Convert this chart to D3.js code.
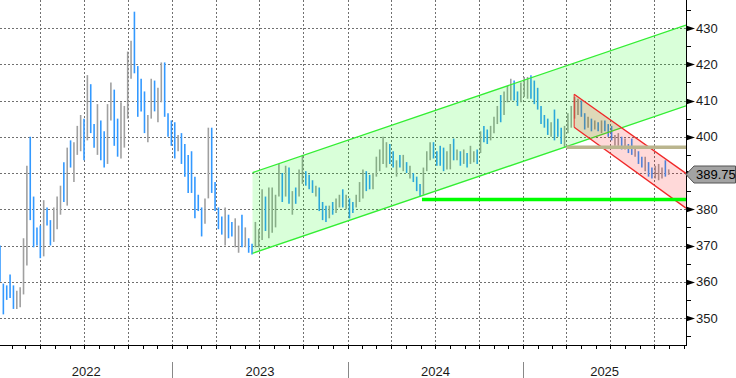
<!DOCTYPE html>
<html>
<head>
<meta charset="utf-8">
<script src="https://cdn.jsdelivr.net/npm/d3@7"></script>
<style>
  body { margin: 0; background: #fff; }
  svg { display: block; font-family: "Liberation Sans", Arial, sans-serif; }
</style>
</head>
<body>
<div id="chart"></div>
<script>
// weekly bars, first one on this date
var firstWeek = "2022-01-07";

var highs = [
  370, 359.5, 359, 362, 359, 357.5, 358.5, 372, 392, 400,
  383.5, 375, 375.5, 382.5, 380.5, 377, 380.5, 383.5, 386.5, 393,
  397, 399, 398.5, 403, 406, 405, 417, 414.5, 403.5, 409,
  404.5, 401.5, 409, 415, 413, 405, 409.5, 408.5, 423.5, 426.5,
  434.5, 419.5, 416, 412.5, 406, 416, 415.5, 413.5, 420.5, 420.5,
  406.5, 404.5, 404, 400.5, 401, 398, 395, 396, 389, 384,
  380.5, 383, 402.5, 402.5, 387.5, 380.5, 378, 380.5, 378.5, 376.5,
  377.5, 375.5, 378.5, 375, 372, 370.5, 376.5, 374.5, 385.5, 383.5,
  386, 386, 384, 392.5, 390, 392, 391.5, 385, 386, 391,
  395, 390.5, 389.5, 388, 386.5, 386, 382, 381, 381, 382,
  383, 384, 385.5, 384, 383, 382, 384, 387.5, 391, 390.5,
  389.5, 390, 394.5, 396.5, 400, 398.5, 398, 396, 393.5, 395,
  395, 393, 392, 390, 389, 387, 391.5, 396, 398.5, 398.5,
  396, 397.5, 397, 396, 398, 399.5, 396.5, 396, 396.5, 395.5,
  397.5, 396, 396.5, 401.5, 403, 402, 403, 405.5, 408.5, 411.5,
  412.5, 414, 416, 415.5, 412.5, 415, 416.5, 416.5, 417, 415.5,
  413.5, 408.5, 406, 405, 404, 407.5, 405, 402.5, 403, 406.5,
  408.5, 411, 410.5, 410, 406.5, 405.5, 405, 404.5, 404, 404.5,
  404.5, 403.5, 403, 400.5, 401, 400, 399.5, 398, 399.5, 397,
  396, 394.5, 394.5, 393, 391.5, 392, 392.5, 391.5, 393.5, 391
];

var lows = [
  360, 351, 355, 355.5, 352.5, 352.5, 353, 356.5, 364.5, 377,
  369.5, 370, 366.5, 367, 375.5, 370, 371, 374.5, 378.5, 382,
  381, 391.5, 387.5, 395, 396, 393.5, 399, 401, 397, 395,
  393.5, 391.5, 392.5, 404.5, 397.5, 394.5, 394, 397, 405, 416,
  417.5, 405.5, 407, 401, 398.5, 405, 407, 404, 409.5, 405.5,
  400, 397.5, 394, 396, 392.5, 389, 384.5, 384.5, 377.5, 379.5,
  372.5, 376, 383, 384.5, 379.5, 374.5, 373, 370, 372, 372.5,
  369.5, 368, 369.5, 369.5, 368, 367.5, 369.5, 369.5, 371.5, 374,
  372, 373.5, 375, 383.5, 382, 383.5, 381.5, 378.5, 381.5, 383.5,
  387, 386.5, 385.5, 384.5, 383.5, 379.5, 377, 376.5, 377.5, 378.5,
  379, 380.5, 380.5, 380, 377.5, 379, 380.5, 382, 383, 385,
  385.5, 385.5, 389, 390.5, 392.5, 391.5, 392.5, 391.5, 389, 391.5,
  390.5, 390, 388.5, 387.5, 385, 383.5, 384, 390.5, 393.5, 394,
  392, 392, 390.5, 391, 391, 393.5, 393.5, 392, 392.5, 391.5,
  392.5, 393, 392.5, 395.5, 398.5, 398, 399, 401, 403.5, 404,
  406, 409.5, 410, 410, 408.5, 409.5, 411, 410.5, 410.5, 409,
  407.5, 403.5, 402.5, 400.5, 400, 399, 400, 398, 397, 401,
  402.5, 405, 406, 405.5, 402, 402.5, 401.5, 402, 401.5, 401,
  401.5, 400, 399, 397.5, 397.5, 396.5, 396.5, 395.5, 395, 394.5,
  392.5, 391.5, 390.5, 389, 388.5, 388.5, 388, 388.5, 389, 389.5
];

// b = down week (blue), g = up week (grey)
var barDir = ("bbbbbggggb" + "bbbgbbgggb" + "gbgggbgbbg" + "bbggbbgggg" +
              "bbbbggbggb" + "bbbgbbbbbb" + "bggbbbbgbb" + "ggbgbbgggb" +
              "ggggbgbgbg" + "gbbbgbbbgb" + "ggbgbbgggb" + "bgggggbbgb" +
              "gbgbbbgggb" + "bbbggbgbgb" + "ggbgbbgggb" + "gggbbgggbb" +
              "bbbbgbbbgg" + "gggbbgbgbg" + "bbbggbgbbg" + "bbgbbgggbg").split("");

var lastPrice = 389.75;

var dateRange = ["2022-01-07", "2025-12-06"];
var priceTicks = [350, 360, 370, 380, 390, 400, 410, 420, 430];
var years = [2022, 2023, 2024, 2025];

// rising channel (green)
var upChannelDates = ["2023-06-17", "2025-12-06"];
var upChannelTop = [390.1, 430.8];
var upChannelBottom = [367.85, 408.5];

// falling channel (red)
var downChannelDates = ["2025-04-17", "2025-12-06"];
var downChannelTop = [411.7, 389.9];
var downChannelBottom = [402.6, 380.3];

// horizontal levels
var supportDates = ["2024-06-04", "2025-12-06"];
var supportLevel = 382.7;
var pivotDates = ["2025-04-01", "2025-12-06"];
var pivotLevel = 397.1;


var W = 736, H = 378;
var plotW = 686, plotH = 345;

var parse = d3.timeParse("%Y-%m-%d");

var x = d3.scaleTime()
    .domain(dateRange.map(parse))
    .range([0, plotW]);

var y = d3.scaleLinear()
    .domain([350, 430])
    .range([318, 28]);

var svg = d3.select("#chart").append("svg")
    .attr("width", W)
    .attr("height", H);

svg.append("defs").append("clipPath")
    .attr("id", "plotClip")
    .append("rect")
    .attr("width", plotW)
    .attr("height", plotH);

// grid
var grid = svg.append("g");

grid.selectAll("line.hgrid")
    .data(priceTicks)
    .enter().append("line")
    .attr("class", "hgrid")
    .attr("x1", 0).attr("x2", plotW)
    .attr("y1", function(d) { return Math.round(y(d)) + 0.5; })
    .attr("y2", function(d) { return Math.round(y(d)) + 0.5; })
    .style("stroke", "#707070")
    .style("stroke-dasharray", "2,2");

var quarters = d3.timeMonth.every(3).range(x.domain()[0], x.domain()[1]);
grid.selectAll("line.vgrid")
    .data(quarters)
    .enter().append("line")
    .attr("class", "vgrid")
    .attr("x1", function(d) { return Math.round(x(d)) + 0.5; })
    .attr("x2", function(d) { return Math.round(x(d)) + 0.5; })
    .attr("y1", 0).attr("y2", plotH)
    .style("stroke", "#707070")
    .style("stroke-dasharray", "2,2");

var plot = svg.append("g").attr("clip-path", "url(#plotClip)");

// price bars
var start = parse(firstWeek);
var bars = highs.map(function(h, i) {
    return { date: d3.timeDay.offset(start, 7 * i), high: h, low: lows[i], dir: barDir[i] };
});

plot.selectAll("line.bar")
    .data(bars)
    .enter().append("line")
    .attr("class", "bar")
    .attr("x1", function(d) { return x(d.date); })
    .attr("x2", function(d) { return x(d.date); })
    .attr("y1", function(d) { return y(d.high); })
    .attr("y2", function(d) { return Math.max(y(d.low), y(d.high) + 1); })
    .style("stroke", function(d) { return d.dir === "b" ? "#3399ff" : "#a0a0a0"; })
    .style("stroke-width", 1.6);

// channels, filled with a see-through tint over the bars
function channelPoints(dates, top, bottom) {
    return [
        [x(parse(dates[0])), y(top[0])],
        [x(parse(dates[1])), y(top[1])],
        [x(parse(dates[1])), y(bottom[1])],
        [x(parse(dates[0])), y(bottom[0])]
    ];
}

function drawChannel(dates, top, bottom, fill, stroke) {
    var pts = channelPoints(dates, top, bottom);
    plot.append("path")
        .attr("d", "M" + pts.join("L") + "Z")
        .style("fill", fill)
        .style("fill-opacity", 0.15);
    plot.append("line")
        .attr("x1", pts[0][0]).attr("y1", pts[0][1])
        .attr("x2", pts[1][0]).attr("y2", pts[1][1])
        .style("stroke", stroke).style("stroke-width", 1.3);
    plot.append("line")
        .attr("x1", pts[3][0]).attr("y1", pts[3][1])
        .attr("x2", pts[2][0]).attr("y2", pts[2][1])
        .style("stroke", stroke).style("stroke-width", 1.3);
}

drawChannel(upChannelDates, upChannelTop, upChannelBottom, "#00ff00", "#33ee33");
drawChannel(downChannelDates, downChannelTop, downChannelBottom, "#ff0000", "#f02828");
// red rails show a short edge at the left end
plot.append("line")
    .attr("x1", x(parse(downChannelDates[0]))).attr("x2", x(parse(downChannelDates[0])))
    .attr("y1", y(downChannelTop[0])).attr("y2", y(downChannelBottom[0]))
    .style("stroke", "#f02828").style("stroke-width", 1);

plot.append("line")
    .attr("x1", x(parse(pivotDates[0]))).attr("x2", x(parse(pivotDates[1])))
    .attr("y1", y(pivotLevel)).attr("y2", y(pivotLevel))
    .style("stroke", "#bab58e").style("stroke-width", 3.5);

plot.append("line")
    .attr("x1", x(parse(supportDates[0]))).attr("x2", x(parse(supportDates[1])))
    .attr("y1", y(supportLevel)).attr("y2", y(supportLevel))
    .style("stroke", "#00ff00").style("stroke-width", 3.5);

// right axis
var axisR = svg.append("g");
axisR.append("line")
    .attr("x1", plotW + 0.5).attr("x2", plotW + 0.5)
    .attr("y1", 0).attr("y2", plotH)
    .style("stroke", "#000");

var minorTicks = d3.range(345, 440, 5);
axisR.selectAll("line.minor")
    .data(minorTicks)
    .enter().append("line")
    .attr("class", "minor")
    .attr("x1", plotW).attr("x2", plotW + 5)
    .attr("y1", function(d) { return Math.round(y(d)) + 0.5; })
    .attr("y2", function(d) { return Math.round(y(d)) + 0.5; })
    .style("stroke", "#000");

axisR.selectAll("path.arrow")
    .data(priceTicks)
    .enter().append("path")
    .attr("class", "arrow")
    .attr("d", function(d) {
        var yy = Math.round(y(d)) + 0.5;
        return "M" + plotW + "," + (yy - 3) + "L" + (plotW + 9) + "," + yy + "L" + plotW + "," + (yy + 3) + "Z";
    })
    .style("fill", "#000");

// labels that the last-price tag would cover are left out, as on the original
axisR.selectAll("text.ylab")
    .data(priceTicks.filter(function(d) { return Math.abs(y(d) - y(lastPrice)) > 12; }))
    .enter().append("text")
    .attr("class", "ylab")
    .attr("x", plotW + 10)
    .attr("y", function(d) { return y(d); })
    .attr("dy", "0.36em")
    .style("font-size", "13px")
    .style("fill", "#1a1a1a")
    .text(function(d) { return d; });

// last price tag
var ly = Math.round(y(lastPrice)) + 0.5;
axisR.append("path")
    .attr("d", "M" + plotW + "," + ly + "L" + (plotW + 8) + "," + (ly - 8.5) +
               "L" + (W - 0.5) + "," + (ly - 8.5) + "L" + (W - 0.5) + "," + (ly + 8.5) +
               "L" + (plotW + 8) + "," + (ly + 8.5) + "Z")
    .style("fill", "#a3a3a3")
    .style("stroke", "#555");
axisR.append("text")
    .attr("x", plotW + 10)
    .attr("y", ly)
    .attr("dy", "0.36em")
    .style("font-size", "13px")
    .style("fill", "#000")
    .text(d3.format(".2f")(lastPrice));

// bottom axis
var axisB = svg.append("g");
axisB.append("line")
    .attr("x1", 0).attr("x2", plotW + 1)
    .attr("y1", plotH + 0.5).attr("y2", plotH + 0.5)
    .style("stroke", "#000");

var months = d3.timeMonth.range(x.domain()[0], x.domain()[1]);
axisB.selectAll("line.mtick")
    .data(months)
    .enter().append("line")
    .attr("class", "mtick")
    .attr("x1", function(d) { return Math.round(x(d)) + 0.5; })
    .attr("x2", function(d) { return Math.round(x(d)) + 0.5; })
    .attr("y1", plotH).attr("y2", plotH + 4)
    .style("stroke", "#000");

var yearStarts = years.slice(1).map(function(yr) { return new Date(yr, 0, 1); });
axisB.selectAll("line.ysep")
    .data(yearStarts)
    .enter().append("line")
    .attr("class", "ysep")
    .attr("x1", function(d) { return Math.round(x(d)) + 0.5; })
    .attr("x2", function(d) { return Math.round(x(d)) + 0.5; })
    .attr("y1", 362).attr("y2", H)
    .style("stroke", "#888");

axisB.selectAll("text.year")
    .data(years)
    .enter().append("text")
    .attr("class", "year")
    .attr("x", function(yr) {
        var a = Math.max(0, x(new Date(yr, 0, 1)));
        var b = Math.min(plotW, x(new Date(yr + 1, 0, 1)));
        return (a + b) / 2;
    })
    .attr("y", 376)
    .attr("text-anchor", "middle")
    .style("font-size", "13px")
    .style("fill", "#1a1a1a")
    .text(function(yr) { return yr; });
</script>
</body>
</html>
